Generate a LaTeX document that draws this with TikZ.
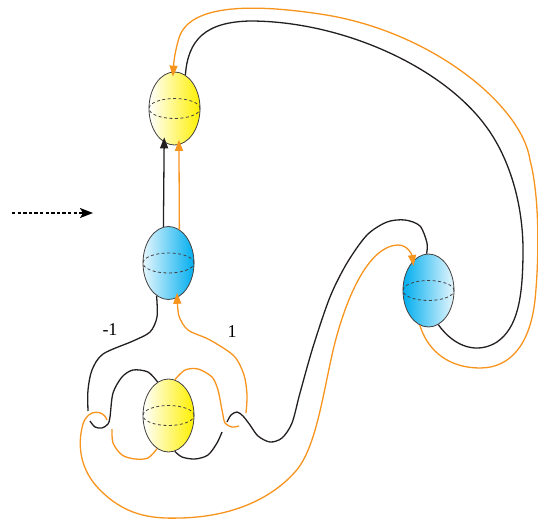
\documentclass[tikz,border=0pt]{standalone}
\usepackage{fontspec}
\setmainfont{Liberation Serif}
\usetikzlibrary{arrows.meta,shapes.geometric}

\definecolor{ballyellow}{RGB}{255,240,0}
\definecolor{ballblue}{RGB}{0,174,239}
\definecolor{lightblue}{RGB}{230,246,253}
\definecolor{strandorange}{RGB}{247,148,29}
\definecolor{strandblack}{RGB}{35,31,32}

\tikzset{
  ball/.style={ellipse, draw=strandblack!85, line width=0.8pt, minimum width=51pt, minimum height=73pt, inner sep=0pt},
  yball/.style={ball, left color=white, right color=ballyellow},
  bball/.style={ball, left color=lightblue, right color=ballblue},
  bballr/.style={ball, left color=ballblue, right color=lightblue},
  equator/.style={draw=strandblack!85, line width=0.8pt, dash pattern=on 3pt off 2.5pt},
  blackline/.style={draw=strandblack, line width=1.3pt},
  orangeline/.style={draw=strandorange, line width=1.3pt},
  arrowin/.style={-{Triangle[length=11pt,width=8pt]}, shorten >=-5pt},
  lbl/.style={font=\fontsize{18}{20}\selectfont}
}

\begin{document}
\begin{tikzpicture}[x=1pt,y=-1pt]

    \useasboundingbox (0,0) rectangle (538,520);

    % spheres
    \node[yball] (ytop) at (174.5,108.5) {};
    \node[bball] (bmid) at (168.5,263) {};
    \node[bballr] (bright) at (428.5,290.5) {};
    \node[yball] (ybot) at (168.5,415.5) {};
    \foreach \b in {ytop,bmid,bright,ybot}
        \draw[equator] (\b.center) ellipse [x radius=25.5pt, y radius=10pt];

    % dotted arrow on the left
    \coordinate (pin) at (12,213);
    \coordinate (pout) at (93,213);
    \draw[line width=1.5pt, dash pattern=on 3.3pt off 2.3pt, -{Stealth[length=13pt,width=10pt,inset=3pt]}] (pin) -- (pout);

    % straight strands between the two upper spheres
    \draw[blackline, arrowin] (bmid.98) -- (ytop.-107);
    \draw[orangeline, arrowin] (bmid.72) -- (ytop.-83);

    % the -1 strand and the left clasp
    \draw[blackline] plot[smooth] coordinates {(bmid.-110) (157,317) (150,332) (133,341) (103,354) (92,370) (88,390) (88,411)};
    \draw[blackline] plot[smooth] coordinates {(90,421) (95,427) (102,428) (108,424) (110,417) (113,393) (122,377) (133,370) (148,372) (ybot.108)};
    \draw[orangeline] plot[smooth] coordinates {(112,429) (113,443) (122,455) (135,459) (148,458) (ybot.-109)};
    \draw[orangeline, arrowin] (107,420) .. controls (104,410) and (88,408) .. (83,424)
        .. controls (77,445) and (80,470) .. (100,490)
        .. controls (125,515) and (150,519) .. (180,518)
        .. controls (230,517) and (270,500) .. (295,472)
        .. controls (315,450) and (322,400) .. (332,355)
        .. controls (342,310) and (365,246) .. (398,245)
        .. controls (408,245) and (412,255) .. (bright.118);

    % the 1 strand and the right clasp
    \draw[orangeline] plot[smooth] coordinates {(ybot.80) (185,370) (198,369) (212,377) (218,390) (222,410) (225,423) (232,427) (239,426)};
    \draw[orangeline, arrowin] plot[smooth] coordinates {(246,413) (247,395) (244,375) (234,356) (210,340) (188,330) (179,316) (bmid.-76)};
    \draw[blackline] plot[smooth] coordinates {(ybot.-80) (182,457) (195,459) (208,455) (217,443) (222,432)};
    \draw[blackline] plot[smooth] coordinates {(227,422) (231,415) (237,412) (243,416) (250,425) (258,436) (270,442) (282,438) (292,423) (300,393) (313,347) (330,297) (347,263) (367,235) (387,222) (405,220) (420,226) (427,243) (bright.93)};

    % the long loop over the top
    \draw[blackline] (ytop.72) .. controls (188,40) and (205,22) .. (250,21)
        .. controls (340,21) and (440,65) .. (485,125)
        .. controls (510,158) and (523,205) .. (523,250)
        .. controls (523,300) and (517,328) .. (497,342)
        .. controls (478,354) and (455,348) .. (bright.-74);
    \draw[orangeline, arrowin] (bright.-104) .. controls (428,352) and (450,368) .. (480,368)
        .. controls (510,368) and (530,345) .. (535,300)
        .. controls (539,260) and (540,198) .. (530,160)
        .. controls (522,105) and (430,30) .. (320,14)
        .. controls (260,5) and (190,2) .. (179,38)
        .. controls (176,48) and (174,58) .. (ytop.92);

    % labels
    \node[lbl] (lminus) at (110,330) {-1};
    \node[lbl] (lplus) at (232,332) {1};

\end{tikzpicture}
\end{document}
